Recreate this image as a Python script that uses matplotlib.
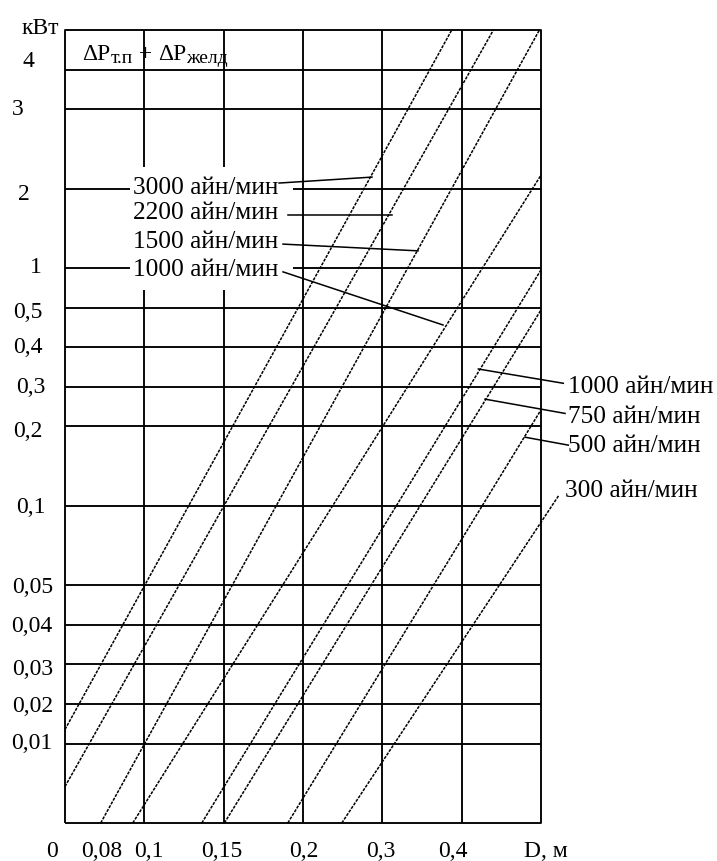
# Номограмма потерь ΔPт.п + ΔPжелд в зависимости от диаметра D и частоты вращения.
# Шкалы на исходном рисунке неравномерные, поэтому всё строится в клетках сетки:
# по X одна клетка = один столбец сетки, по Y одна клетка = 1/20 высоты поля.

import matplotlib
matplotlib.use("Agg")
import matplotlib.pyplot as plt

plt.rcParams["font.family"] = ["Liberation Serif", "DejaVu Serif"]

# --- данные ---------------------------------------------------------------
# горизонтальные линии сетки (клетки снизу) и их подписи, кВт
p_levels = [2, 3, 4, 5, 6, 8, 10, 11, 12, 13, 14, 16, 18, 19]
p_labels = ["0,01", "0,02", "0,03", "0,04", "0,05", "0,1", "0,2",
            "0,3", "0,4", "0,5", "1", "2", "3", "4"]

# вертикальные линии сетки и подписи оси D
d_levels = [1, 2, 3, 4, 5]
d_labels = ["0", "0,08", "0,1", "0,15", "0,2", "0,3", "0,4", "D, м"]

# прямые для частот вращения: начало и конец (в клетках)
line_u0 = [0.0, 0.0, 0.45, 0.854, 1.724, 2.009, 2.808, 3.489]
line_v0 = [2.36, 0.92, 0.0, 0.0, 0.0, 0.0, 0.0, 0.0]
line_u1 = [4.875, 5.40, 5.98, 6.0, 6.0, 6.0, 6.0, 6.22]
line_v1 = [20.0, 20.0, 20.0, 16.34, 13.95, 12.94, 10.42, 8.25]

speed_upper = ["3000 айн/мин", "2200 айн/мин", "1500 айн/мин", "1000 айн/мин"]
speed_lower = ["1000 айн/мин", "750 айн/мин", "500 айн/мин", "300 айн/мин"]

# выноски от подписей к прямым
lead_u0 = [2.698, 2.811, 2.748, 2.748, 5.210, 5.294, 5.799]
lead_v0 = [16.14, 15.33, 14.60, 13.90, 11.45, 10.69, 9.73]
lead_u1 = [3.870, 4.118, 4.450, 4.765, 6.281, 6.303, 6.344]
lead_v1 = [16.29, 15.33, 14.43, 12.56, 11.09, 10.33, 9.53]

# --- оформление -----------------------------------------------------------
W, H = 717, 861
GRID_LW = 1.35
FS_TICK = 17
FS_SPEED = 18.3

# подписи оси Y: центр по X в пикселях (на оригинале немного гуляет)
p_label_x = [32, 33, 33, 32, 33, 31, 28, 31, 28, 28, 36, 24, 18, 28]
p_label_dy = [0.0, -0.05, -0.12, -0.05, -0.05, -0.05, -0.13, -0.02, 0.0, -0.12, 0.0, -0.15, 0.0, 0.2]
d_label_u = [-0.164, 0.466, 1.06, 1.97, 3.01, 3.98, 4.89, 6.06]
upper_text_v = [16.01, 15.38, 14.66, 13.95]
lower_text_v = [11.00, 10.25, 9.52, 8.38]

fig = plt.figure(figsize=(W / 100, H / 100), dpi=100)
fig.patch.set_facecolor("white")
ax = fig.add_axes([65 / W, 38 / H, 476 / W, 793 / H])
ax.set_xlim(0, 6)
ax.set_ylim(0, 20)
ax.axis("off")

kw = dict(color="black", lw=GRID_LW, solid_capstyle="butt", clip_on=False)

# рамка
ax.plot([0, 6, 6, 0, 0], [0, 0, 20, 20, 0], **kw)

# горизонтальные линии; у «2» и «1» разрыв под подписями
for v in p_levels:
    if v in (14, 16):
        ax.plot([0, 0.82], [v, v], **kw)
        ax.plot([2.87, 6], [v, v], **kw)
    else:
        ax.plot([0, 6], [v, v], **kw)

# вертикальные линии; у 0,1 и 0,15 разрыв под подписями
for u in d_levels:
    if u in (1, 2):
        ax.plot([u, u], [0, 13.44], **kw)
        ax.plot([u, u], [16.55, 20], **kw)
    else:
        ax.plot([u, u], [0, 20], **kw)

# прямые частот вращения (на оригинале — тонкие штриховые)
for u0, v0, u1, v1 in zip(line_u0, line_v0, line_u1, line_v1):
    ax.plot([u0, u1], [v0, v1], color="black", lw=1.1,
            linestyle=(0, (2.0, 0.8)), clip_on=False)

# выноски
for u0, v0, u1, v1 in zip(lead_u0, lead_v0, lead_u1, lead_v1):
    ax.plot([u0, u1], [v0, v1], color="black", lw=1.1, clip_on=False)

# подписи частот
for txt, v in zip(speed_upper, upper_text_v):
    ax.text(2.685, v, txt, ha="right", va="center", fontsize=FS_SPEED)
for i, (txt, v) in enumerate(zip(speed_lower, lower_text_v)):
    x = 6.30 if i == 3 else 6.34
    ax.text(x, v, txt, ha="left", va="center", fontsize=FS_SPEED)

# подписи оси Y
for v, lab, px, dv in zip(p_levels, p_labels, p_label_x, p_label_dy):
    ax.text((px - 65) / 79.33, v + dv, lab, ha="center", va="center",
            fontsize=FS_TICK)
ax.text(-0.315, 20.05, "кВт", ha="center", va="center", fontsize=FS_TICK)

# подписи оси D
for u, lab in zip(d_label_u, d_labels):
    ax.text(u, -0.72, lab, ha="center", va="center", fontsize=FS_TICK)

# заголовок в верхней клетке: ΔP с нижними индексами, собран по кускам
t = ax.text(0.22, 19.24, "ΔP", ha="left", va="baseline", fontsize=17)
pieces = [("т.п", 14, -2), (" + ", 17, 0), ("ΔP", 17, 0), ("желд", 14, -2)]
prev_dy = 0
for s, fs, dy in pieces:
    t = ax.annotate(s, xy=(1, 0), xycoords=t, xytext=(0, dy - prev_dy),
                    textcoords="offset pixels", ha="left", va="bottom",
                    fontsize=fs)
    prev_dy = dy

fig.savefig("out.png", dpi=100)
